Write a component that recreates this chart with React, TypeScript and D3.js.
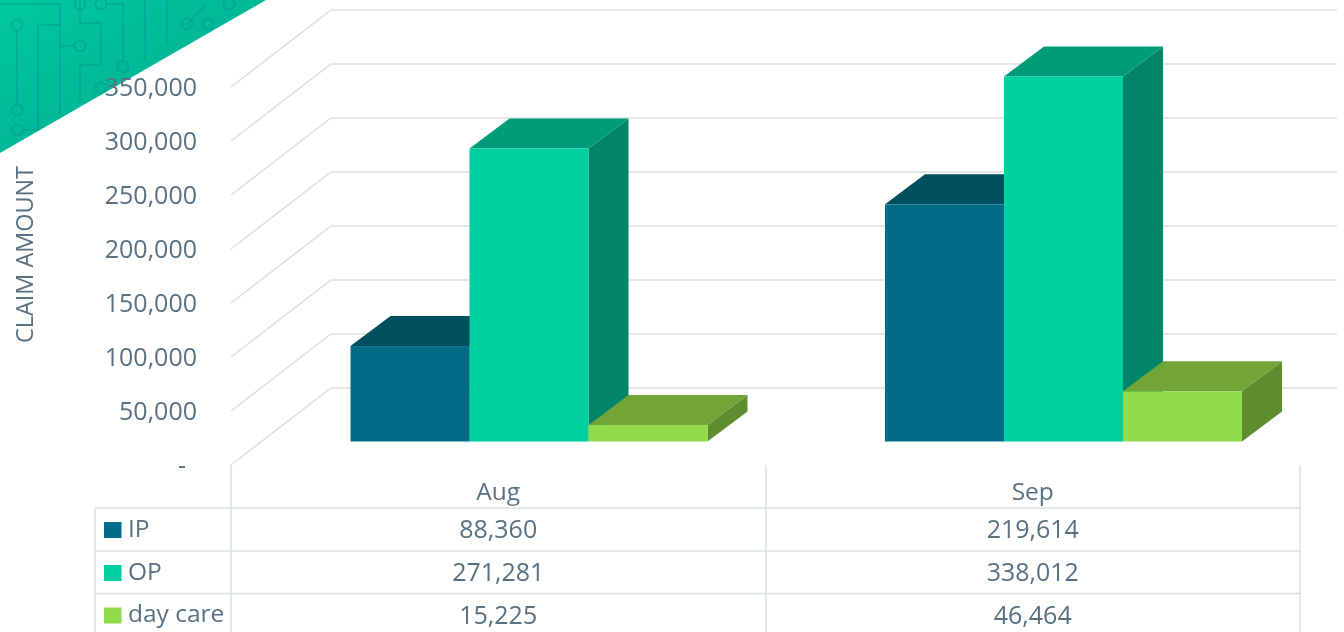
import React from "react";
import * as d3 from "d3";

const categories = ["Aug", "Sep"];
const seriesNames = ["IP", "OP", "day care"];
const ipValues = [88360, 219614];
const opValues = [271281, 338012];
const dayCareValues = [15225, 46464];
const yTicks = [0, 50000, 100000, 150000, 200000, 250000, 300000, 350000];
const seriesValues = [ipValues, opValues, dayCareValues];
const frontColors = ["#006c85", "#00cfa0", "#92dc4c"];
const topColors = ["#004f61", "#009c79", "#71a537"];
const sideColors = ["#003f4e", "#00856a", "#5e8c2e"];

const W = 1344, H = 632;
const FONT = "'Open Sans', sans-serif";
const TEXT = "#587082";
const GRID = "#d9e0e4";
const wallDx = 100, wallDy = -77;
const barDx = 40, barDy = -30;

const y = d3.scaleLinear().domain([0, 350000]).range([465, 87]);
const barBase = 441.5;
const barH = (v: number) => y(0) - y(v);
const xBand = d3.scaleBand<string>().domain(categories).range([231, 1300]);
const xSeries = d3.scaleBand<string>().domain(seriesNames).range([119.5, 119.5 + 357]);
const fmt = d3.format(",");

const circuit = [
  "M17 30V105", "M22 130H38V25H60", "M0 4H60V115", "M60 46H75", "M80 0V23H101V65H80V100",
  "M108 4H123V62", "M145 0V60", "M167 0V45", "M187 24L205 5",
];
const nodes: [number, number][] = [[17, 25], [17, 110], [17, 130], [80, 46], [80, 4], [101, 4], [123, 67], [101, 88], [187, 24], [208, 24], [229, 4]];

function Bar({ x, w, v, i }: { x: number; w: number; v: number; i: number }) {
  const top = barBase - barH(v);
  const line = d3.line();
  return (
    <g>
      <path d={line([[x + w, barBase], [x + w + barDx, barBase + barDy], [x + w + barDx, top + barDy], [x + w, top]])!} fill={sideColors[i]} />
      <path d={line([[x, top], [x + barDx, top + barDy], [x + w + barDx, top + barDy], [x + w, top]])!} fill={topColors[i]} />
      <rect x={x} y={top} width={w} height={barH(v)} fill={frontColors[i]} />
    </g>
  );
}

export default function App() {
  const rows = [508, 551, 593.5];
  const colX = [231, 766, 1300];
  return (
    <svg width={W} height={H} viewBox={`0 0 ${W} ${H}`} style={{ position: "absolute", left: 0, top: 0, background: "#fff" }} fontFamily={FONT}>
      <defs>
        <linearGradient id="ban" x1="0" y1="0" x2="1" y2="1">
          <stop offset="0" stopColor="#00c9a0" />
          <stop offset="1" stopColor="#00a88e" />
        </linearGradient>
        <clipPath id="banClip"><path d="M0 0H266L0 153Z" /></clipPath>
        <filter id="soft" x="0" y="0" width="100%" height="100%">
          <feGaussianBlur stdDeviation="0.4" />
        </filter>
      </defs>

      <g filter="url(#soft)">
        <rect x={0} y={0} width={W} height={H} fill="#fff" />
        {yTicks.map((t) => (
          <path key={t} d={`M${231} ${y(t)}L${231 + wallDx} ${y(t) + wallDy}H1337`} fill="none" stroke={GRID} strokeWidth={1.5} />
        ))}

        <path d="M0 0H266L0 153Z" fill="url(#ban)" />
        <g clipPath="url(#banClip)" fill="none" stroke="#0b8f8a" strokeWidth={1.5} opacity={0.45}>
          {circuit.map((d, i) => <path key={i} d={d} />)}
          {nodes.map(([cx, cy], i) => <circle key={i} cx={cx} cy={cy} r={5.5} />)}
        </g>

        {yTicks.map((t) => (
          <text key={t} x={t === 0 ? 186 : 197} y={y(t)} dy="0.36em" textAnchor="end" fontSize={25} fill={TEXT}>
            {t === 0 ? "-" : fmt(t)}
          </text>
        ))}
        <text transform="translate(24,254.5) rotate(-90)" textAnchor="middle" dominantBaseline="central" fontSize={23.4} fill={TEXT}>CLAIM AMOUNT</text>

        {categories.map((c, ci) => (
          <g key={c}>
            {seriesNames.map((s, si) => (
              <Bar key={s} x={xBand(c)! + xSeries(s)!} w={xSeries.bandwidth()} v={seriesValues[si][ci]} i={si} />
            ))}
          </g>
        ))}

        <g stroke={GRID} strokeWidth={1.5} fill="none">
          {rows.map((r) => <path key={r} d={`M95 ${r}H1300`} />)}
          {colX.map((x) => <path key={x} d={`M${x} 465V632`} />)}
          <path d="M95 508V632" />
        </g>

        {categories.map((c) => (
          <text key={c} x={xBand(c)! + xBand.bandwidth() / 2} y={491} dy="0.36em" textAnchor="middle" fontSize={24.5} fill={TEXT}>{c}</text>
        ))}
        {seriesNames.map((s, si) => (
          <g key={s}>
            <rect x={104} y={rows[si] + 14} width={17.5} height={16} fill={frontColors[si]} />
            <text x={128} y={rows[si] + 20} dy="0.36em" fontSize={24.5} fill={TEXT}>{s}</text>
            {categories.map((c, ci) => (
              <text key={c} x={xBand(c)! + xBand.bandwidth() / 2} y={rows[si] + 21} dy="0.36em" textAnchor="middle" fontSize={25} fill={TEXT}>{fmt(seriesValues[si][ci])}</text>
            ))}
          </g>
        ))}
      </g>
    </svg>
  );
}
